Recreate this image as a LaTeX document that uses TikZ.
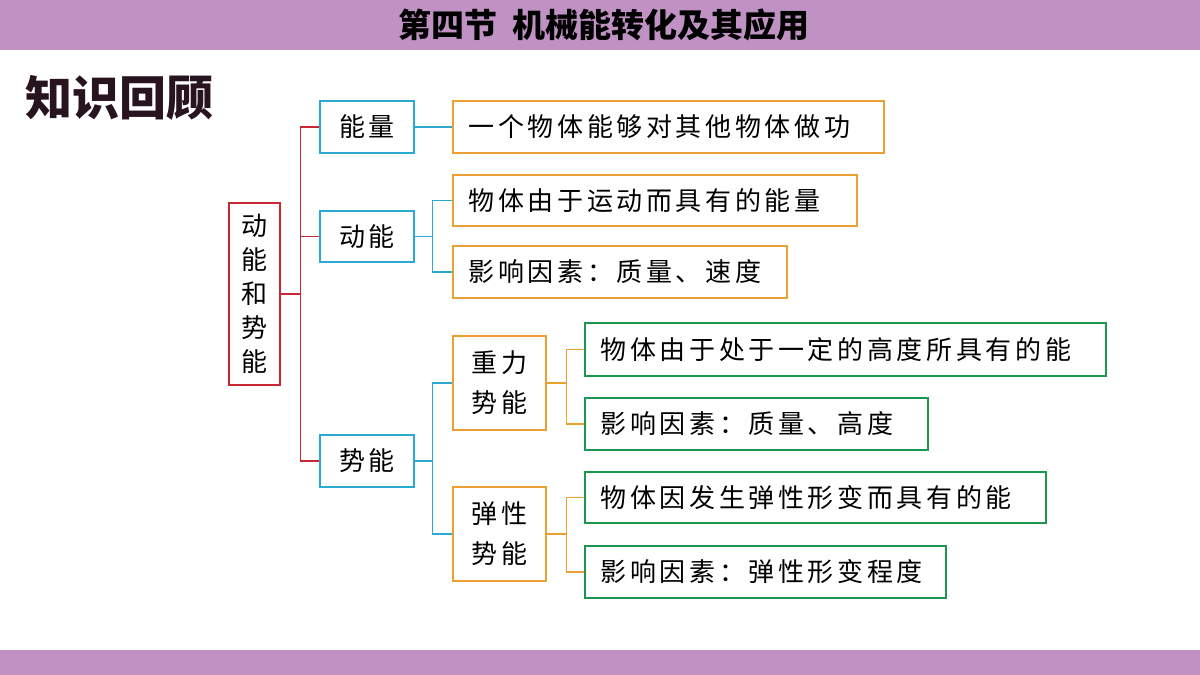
\documentclass[tikz,border=0pt]{standalone}
\usepackage{fontspec}
\newfontfamily\cjk{Noto Sans CJK SC}
\newfontfamily\cjks[LetterSpace=14]{Noto Sans CJK SC}
\definecolor{cR}{RGB}{200,40,50}
\definecolor{cC}{RGB}{40,170,210}
\definecolor{cO}{RGB}{235,160,50}
\definecolor{cG}{RGB}{30,150,80}
\definecolor{cP}{RGB}{192,146,196}
\definecolor{cK}{RGB}{40,20,30}
\begin{document}
\begin{tikzpicture}[x=1pt,y=-1pt,
  bx/.style={draw,line width=1.3pt,fill=white,inner sep=0pt,font=\cjks\fontsize{26}{40}\selectfont,align=center},
  rb/.style={bx,draw=cR},
  cb/.style={bx,draw=cC},
  ob/.style={bx,draw=cO},
  gb/.style={bx,draw=cG,align=left,text width=#1},
  rl/.style={line width=1.2pt,draw=cR},
  cl/.style={line width=1.2pt,draw=cC},
  ol/.style={line width=1.2pt,draw=cO}]
\newcommand\bx[7]{\node[#6,minimum width={#4-#2},minimum height={#5-#3}] (#1) at ({(#2+#4)/2},{(#3+#5)/2}) {#7};}
\useasboundingbox (0,0) rectangle (1200,675);
\fill[white] (0,0) rectangle (1200,675);
\fill[cP] (0,0) rectangle (1200,50);
\fill[cP] (0,650) rectangle (1200,675);
\node[font=\cjk\bfseries\fontsize{33}{36}\selectfont] (title) at (604,25) {第四节\ \ 机械能转化及其应用};
\node[font=\cjk\bfseries\fontsize{47}{50}\selectfont,text=cK,anchor=west] (kh) at (22,98) {知识回顾};
\bx{root}{229}{203}{280}{385}{rb,font=\cjk\fontsize{26}{34}\selectfont}{动\\能\\和\\势\\能}
\bx{nl}{320}{101}{414}{153}{cb}{能量}
\bx{dn}{320}{211}{414}{262}{cb}{动能}
\bx{sn}{320}{435}{414}{487}{cb}{势能}
\bx{a1}{453}{101}{884}{153}{ob,text width=400pt,align=left}{一个物体能够对其他物体做功}
\bx{a2}{453}{175}{857}{226}{ob,text width=373pt,align=left}{物体由于运动而具有的能量}
\bx{a3}{453}{246}{787}{298}{ob,text width=303pt,align=left}{影响因素：质量、速度}
\bx{zl}{453}{336}{546}{430}{ob}{重力\\势能}
\bx{tx}{453}{487}{546}{581}{ob}{弹性\\势能}
\bx{g1}{585}{323}{1106}{376}{gb=490pt}{物体由于处于一定的高度所具有的能}
\bx{g2}{585}{398}{928}{450}{gb=312pt}{影响因素：质量、高度}
\bx{g3}{585}{472}{1046}{523}{gb=430pt}{物体因发生弹性形变而具有的能}
\bx{g4}{585}{546}{946}{598}{gb=330pt}{影响因素：弹性形变程度}
\draw[rl] (root.east) -- ++(20,0) coordinate (rj);
\draw[rl] (nl.west) -| (rj) |- (sn.west);
\draw[rl] (rj) |- (dn.west);
\draw[cl] (nl) -- (a1);
\draw[cl] (dn.east) -- ++(18,0) coordinate (dj);
\draw[cl] (a2.west) -| (dj) |- (a3.west);
\draw[cl] (sn.east) -- ++(18,0) coordinate (sj);
\draw[cl] (zl.west) -| (sj) |- (tx.west);
\draw[ol] (zl.east) -- ++(20,0) coordinate (zj);
\draw[ol] (g1.west) -| (zj) |- (g2.west);
\draw[ol] (tx.east) -- ++(20,0) coordinate (tj);
\draw[ol] (g3.west) -| (tj) |- (g4.west);
\end{tikzpicture}
\end{document}
